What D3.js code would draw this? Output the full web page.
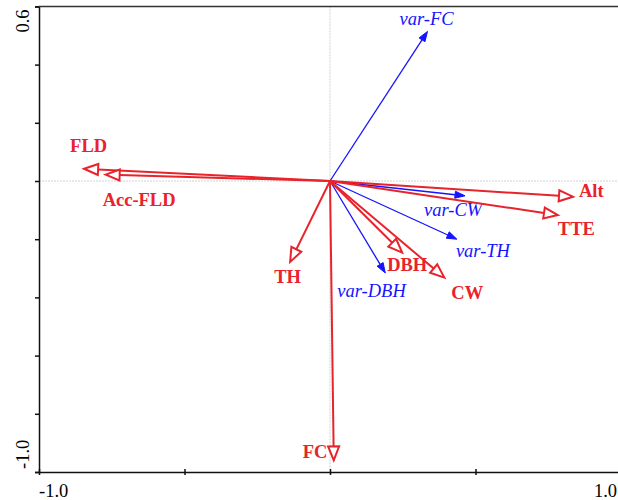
<!DOCTYPE html>
<html>
<head>
<meta charset="utf-8">
<script src="https://cdn.jsdelivr.net/npm/d3@7"></script>
<style>
    body { margin: 0; background: #fff; }
    svg { display: block; }
</style>
</head>
<body>
<svg id="chart" width="618" height="500"></svg>
<script>
// response variables (red, hollow heads)
var redNames = ['FLD', 'Acc-FLD', 'Alt', 'TTE', 'TH', 'DBH', 'CW', 'FC'];
var redX = [-0.845, -0.771, 0.835, 0.783, -0.137, 0.248, 0.393, 0.013];
var redY = [0.042, 0.022, -0.054, -0.117, -0.278, -0.246, -0.332, -0.960];

// explanatory variables (blue, filled heads)
var blueNames = ['var-FC', 'var-CW', 'var-TH', 'var-DBH'];
var blueX = [0.335, 0.464, 0.436, 0.190];
var blueY = [0.514, -0.051, -0.200, -0.316];

// axis ticks
var xTicks = [-1.0, -0.5, 0, 0.5, 1.0];
var yTicks = [-1.0, -0.8, -0.6, -0.4, -0.2, 0, 0.2, 0.4, 0.6];
var xTickLabels = ['-1.0', '1.0'];
var yTickLabels = ['0.6', '-1.0'];

var RED = '#e8232b';
var BLUE = '#1414ff';
var FONT = '"Times New Roman", "Liberation Serif", "DejaVu Serif", serif';

var svg = d3.select('#chart');

var x = d3.scaleLinear().domain([-1, 1]).range([39, 621]);
var y = d3.scaleLinear().domain([-1, 0.6]).range([472, 6.4]);

// label offsets from arrow tip, in pixels
var redLabelOffset = {
    'FLD': [-14, -17], 'Acc-FLD': [-3, 31], 'Alt': [6, 0], 'TTE': [0, 20],
    'TH': [-16, 21], 'DBH': [-15, 18], 'CW': [7, 21], 'FC': [-31, -2]
};
var blueLabelOffset = {
    'var-FC': [-28, -6], 'var-CW': [-41, 20], 'var-TH': [-1, 18], 'var-DBH': [-48, 24]
};

// zero lines
svg.append('line')
    .attr('x1', x(0)).attr('x2', x(0))
    .attr('y1', y(0.6)).attr('y2', y(-1))
    .style('stroke', '#d2d2d2').style('stroke-width', 1)
    .style('stroke-dasharray', '2,1');
svg.append('line')
    .attr('x1', x(-1)).attr('x2', x(1))
    .attr('y1', y(0)).attr('y2', y(0))
    .style('stroke', '#d2d2d2').style('stroke-width', 1)
    .style('stroke-dasharray', '2,1');

// axes
var yAxis = d3.axisLeft(y).tickValues(yTicks).tickSize(4).tickFormat('');
var xAxis = d3.axisBottom(x).tickValues(xTicks).tickSizeInner(-3).tickSizeOuter(0).tickFormat('');

var gy = svg.append('g').attr('transform', 'translate(' + x(-1) + ',0)').call(yAxis);
var gx = svg.append('g').attr('transform', 'translate(0,' + y(-1) + ')').call(xAxis);
gx.selectAll('.tick line').attr('y1', 3);
[gx, gy].forEach(function(g){
    g.select('.domain').style('stroke', '#111').style('stroke-width', 1.5);
    g.selectAll('.tick line').style('stroke', '#111').style('stroke-width', 1.5);
});

// top border
svg.append('line')
    .attr('x1', x(-1)).attr('x2', x(1))
    .attr('y1', y(0.6)).attr('y2', y(0.6))
    .style('stroke', '#333').style('stroke-width', 1.5);

// tick labels
svg.append('text')
    .attr('x', x(-1)).attr('y', 497)
    .style('font-family', FONT).attr('font-size', 18.5)
    .text(xTickLabels[0]);
svg.append('text')
    .attr('x', 617).attr('y', 497)
    .attr('text-anchor', 'end')
    .style('font-family', FONT).attr('font-size', 18.5)
    .text(xTickLabels[1]);
svg.append('text')
    .attr('transform', 'translate(28.5,' + (y(0.6) + 3) + ') rotate(-90)')
    .attr('text-anchor', 'end')
    .style('font-family', FONT).attr('font-size', 18.5)
    .text(yTickLabels[0]);
svg.append('text')
    .attr('transform', 'translate(28.5,' + (y(-1) - 3) + ') rotate(-90)')
    .attr('text-anchor', 'start')
    .style('font-family', FONT).attr('font-size', 18.5)
    .text(yTickLabels[1]);

// arrow head polygon, tip at (tx, ty), pointing away from origin
function headPoints(tx, ty, len, half){
    var ox = x(0), oy = y(0);
    var dx = tx - ox, dy = ty - oy;
    var d = Math.sqrt(dx * dx + dy * dy);
    var ux = dx / d, uy = dy / d;
    var bx = tx - ux * len, by = ty - uy * len;
    return [[tx, ty], [bx - uy * half, by + ux * half], [bx + uy * half, by - ux * half]];
}

function DrawArrows(names, xs, ys, color, hollow, offsets, labelStyle){
    var data = names.map(function(n, i){ return {name: n, x: xs[i], y: ys[i]}; });
    var len = hollow ? 14 : 10;
    var half = hollow ? 5.5 : 3.5;
    var g = svg.append('g');

    var items = g.selectAll('g.arrow')
        .data(data)
        .enter()
        .append('g')
        .classed('arrow', true);

    items.append('line')
        .attr('x1', x(0)).attr('y1', y(0))
        .attr('x2', function(d){
            var p = headPoints(x(d.x), y(d.y), len, half);
            return (p[1][0] + p[2][0]) / 2;
        })
        .attr('y2', function(d){
            var p = headPoints(x(d.x), y(d.y), len, half);
            return (p[1][1] + p[2][1]) / 2;
        })
        .style('stroke', color)
        .style('stroke-width', hollow ? 2 : 1.3);

    items.append('polygon')
        .attr('points', function(d){
            return headPoints(x(d.x), y(d.y), len, half).map(function(p){ return p.join(','); }).join(' ');
        })
        .style('fill', hollow ? '#fff' : color)
        .style('stroke', color)
        .style('stroke-width', hollow ? 2 : 1)
        .style('stroke-linejoin', 'miter');

    items.append('text')
        .attr('x', function(d){ return x(d.x) + offsets[d.name][0]; })
        .attr('y', function(d){ return y(d.y) + offsets[d.name][1]; })
        .style('font-family', FONT)
        .attr('font-size', 18.5)
        .attr('font-weight', labelStyle.weight)
        .attr('font-style', labelStyle.style)
        .style('fill', color)
        .text(function(d){ return d.name; });
}

DrawArrows(blueNames, blueX, blueY, BLUE, false, blueLabelOffset, {weight: 'normal', style: 'italic'});
DrawArrows(redNames, redX, redY, RED, true, redLabelOffset, {weight: 'bold', style: 'normal'});
</script>
</body>
</html>
